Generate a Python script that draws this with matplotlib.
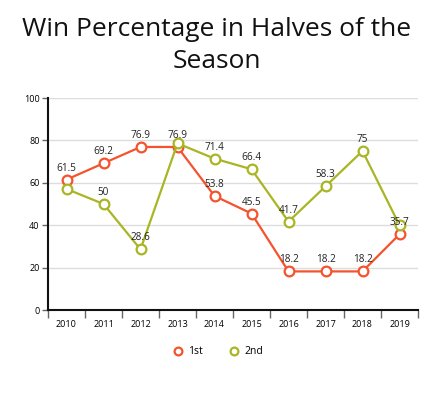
import matplotlib
matplotlib.use("Agg")
import matplotlib.pyplot as plt
import numpy as np

years = ["2010", "2011", "2012", "2013", "2014", "2015", "2016", "2017", "2018", "2019"]
first = [61.5, 69.2, 76.9, 76.9, 53.8, 45.5, 18.2, 18.2, 18.2, 35.7]
second = [57.1, 50, 28.6, 78.6, 71.4, 66.4, 41.7, 58.3, 75, 40]
first_show = [True, True, True, True, True, True, True, True, True, True]
second_show = [False, True, True, False, True, True, True, True, True, False]
series_names = ["1st", "2nd"]
colors = ["#f4532d", "#a9b524"]
yticks = [0, 20, 40, 60, 80, 100]

plt.rcParams['font.family'] = ['Open Sans', 'DejaVu Sans']

fig = plt.figure(figsize=(4.37, 3.95), dpi=100)
ax = fig.add_axes([48/437, 85/395, 370/437, 212/395])

x = np.arange(len(years))
for vals, show, col, name in [(first, first_show, colors[0], series_names[0]),
                              (second, second_show, colors[1], series_names[1])]:
    ax.plot(x, vals, color=col, lw=1.6, marker='o', ms=7, mfc='white',
            mec=col, mew=1.6, label=name, zorder=3, clip_on=False)
    for xi, v, s in zip(x, vals, show):
        if s:
            ax.annotate(f"{v:g}", (xi, v), xytext=(0, 6), textcoords='offset pixels',
                        ha='center', va='bottom', fontsize=7.2, color='#222222', zorder=4)

ax.set_xlim(-0.5, len(years) - 0.5)
ax.set_ylim(0, 100)
ax.set_yticks(yticks)
ax.set_yticklabels([str(t) for t in yticks], fontsize=6.5)
ax.grid(axis='y', color='#dddddd', lw=1)
ax.set_axisbelow(True)

ax.set_xticks(x)
ax.set_xticklabels(years, fontsize=6.5)
ax.set_xticks(np.arange(-0.5, len(years)), minor=True)
ax.tick_params(axis='x', which='major', length=0, pad=7)
ax.tick_params(axis='x', which='minor', length=6, color='#666666', width=1)
ax.tick_params(axis='y', length=4, color='#666666', width=1, pad=2)

for s in ['top', 'right']:
    ax.spines[s].set_visible(False)
ax.spines['left'].set_color('#111111')
ax.spines['left'].set_linewidth(1.5)
ax.spines['bottom'].set_color('#111111')
ax.spines['bottom'].set_linewidth(1.5)

fig.text(217/437, 1 - 29/395, "Win Percentage in Halves of the", ha='center', va='center', fontsize=19, color='#111111')
fig.text(217/437, 1 - 61/395, "Season", ha='center', va='center', fontsize=19, color='#111111')

leg = fig.legend(loc='center', bbox_to_anchor=(218/437, 1 - 352/395), ncol=2, frameon=False,
                 fontsize=7.5, handlelength=1.0, handletextpad=0.5, columnspacing=2.5,
                 markerscale=0.8)
for h in leg.legend_handles:
    h.set_linestyle('none')

fig.savefig("out.png", dpi=100, facecolor='white')
